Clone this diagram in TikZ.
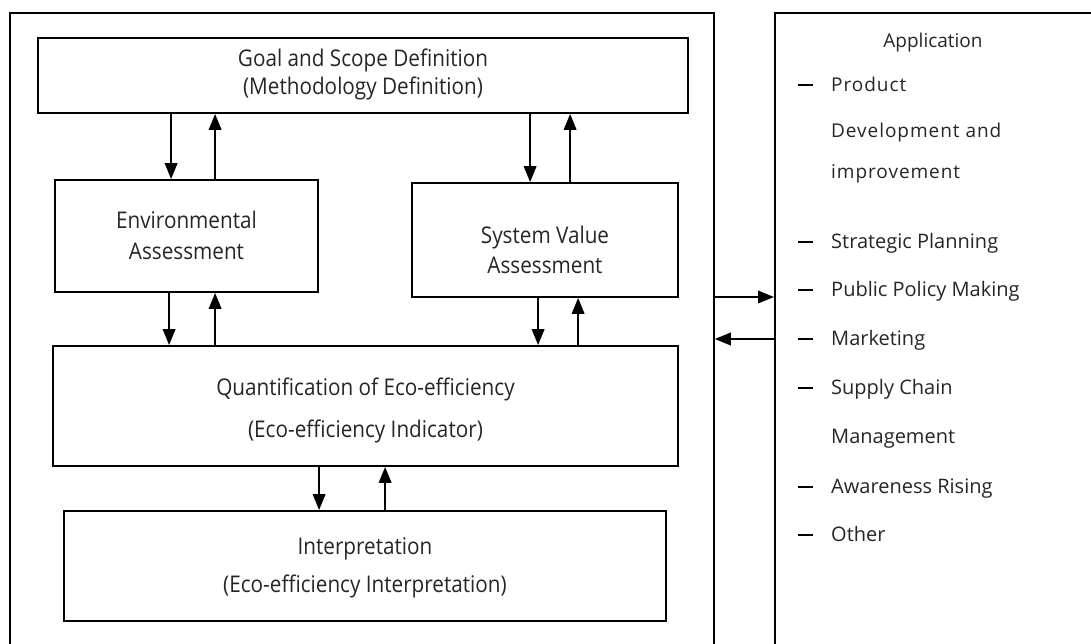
\documentclass[tikz,border=0pt]{standalone}
\usepackage{fontspec}
\setmainfont{Open Sans}
\newfontfamily\boxfont{Open Sans}[FakeStretch=0.9]
\newfontfamily\spacedfont{Open Sans}[LetterSpace=5]
\usetikzlibrary{arrows.meta}
\begin{document}
\begin{tikzpicture}[x=1pt,y=-1pt,
  frame/.style={draw,line width=1.8pt,inner sep=0pt},
  stage/.style={draw,line width=1.8pt,inner sep=0pt},
  stagetext/.style={inner sep=0pt,align=center,text=black!85},
  item/.style={anchor=base west,inner sep=0pt,
    font=\fontsize{20}{24}\selectfont,text=black!85},
  spaced/.style={item,font=\spacedfont\fontsize{19}{24}\selectfont},
  dashmark/.style={line width=2.2pt},
  arr/.style={line width=2pt,-{Triangle[length=16pt,width=12.5pt]}}]
\useasboundingbox (0,0) rectangle (1091,643);
\clip (0,0) rectangle (1091,643);
\fill[white] (0,0) rectangle (1091,643);

% outer frames
\node[frame,minimum width=704,minimum height=700,anchor=north west] (lca) at (9,12) {};
\node[frame,minimum width=400,minimum height=700,anchor=north west] (app) at (774,12) {};

% stages
\node[stage,minimum width=650,minimum height=75] (goal) at (363,75.5) {};
\node[stage,minimum width=263,minimum height=112] (env) at (186.5,236) {};
\node[stage,minimum width=266,minimum height=114] (sys) at (545,240) {};
\node[stage,minimum width=625,minimum height=120] (quant) at (365.5,406) {};
\node[stage,minimum width=602,minimum height=110] (interp) at (365,566) {};

% stage captions (yshift is on the canvas, positive = up)
\node[stagetext,font=\boxfont\fontsize{23}{28}\selectfont] (goalT) at ([yshift=1]goal.center)
  {Goal and Scope Definition\\(Methodology Definition)};
\node[stagetext,font=\boxfont\fontsize{23}{31}\selectfont] (envT) at ([yshift=1]env.center)
  {Environmental\\Assessment};
\node[stagetext,font=\boxfont\fontsize{23}{30}\selectfont] (sysT) at ([yshift=-10]sys.center)
  {System Value\\Assessment};
\node[stagetext,font=\boxfont\fontsize{23}{42}\selectfont] (quantT) at ([yshift=-4]quant.center)
  {Quantification of Eco-efficiency\\(Eco-efficiency Indicator)};
\node[stagetext,font=\boxfont\fontsize{23}{38}\selectfont] (interpT) at ([yshift=-2]interp.center)
  {Interpretation\\(Eco-efficiency Interpretation)};

% two-way links between stages
\draw[arr] ([xshift=134]goal.south west) -- ([xshift=117]env.north west);
\draw[arr] ([xshift=161]env.north west) -- ([xshift=178]goal.south west);
\draw[arr] ([xshift=493]goal.south west) -- ([xshift=119]sys.north west);
\draw[arr] ([xshift=159]sys.north west) -- ([xshift=533]goal.south west);
\draw[arr] ([xshift=115]env.south west) -- ([xshift=117]quant.north west);
\draw[arr] ([xshift=163]quant.north west) -- ([xshift=161]env.south west);
\draw[arr] ([xshift=127]sys.south west) -- ([xshift=486]quant.north west);
\draw[arr] ([xshift=526]quant.north west) -- ([xshift=167]sys.south west);
\draw[arr] ([xshift=267]quant.south west) -- ([xshift=256]interp.north west);
\draw[arr] ([xshift=322]interp.north west) -- ([xshift=333]quant.south west);

% links between the framework and its applications
\draw[arr] (lca.east |- 0,297) -- (app.west |- 0,297);
\draw[arr] (app.west |- 0,339) -- (lca.east |- 0,339);

% application list
\node[anchor=base,inner sep=0pt,font=\fontsize{19}{24}\selectfont,text=black!85] (apptitle) at (933,47) {Application};
\foreach \y in {91,248,296,345,394,493,541}
  \draw[dashmark] (798,\y-6) -- (813,\y-6);
\node[spaced] (p1) at (831,91) {Product};
\node[spaced] (p2) at (831,137) {Development and};
\node[spaced] (p3) at (831,178) {improvement};
\node[item] (s1) at (831,248) {Strategic Planning};
\node[item] (s2) at (831,296) {Public Policy Making};
\node[item] (s3) at (831,345) {Marketing};
\node[item] (s4) at (831,394) {Supply Chain};
\node[item] (s5) at (831,443) {Management};
\node[item] (s6) at (831,493) {Awareness Rising};
\node[item] (s7) at (831,541) {Other};
\end{tikzpicture}
\end{document}
